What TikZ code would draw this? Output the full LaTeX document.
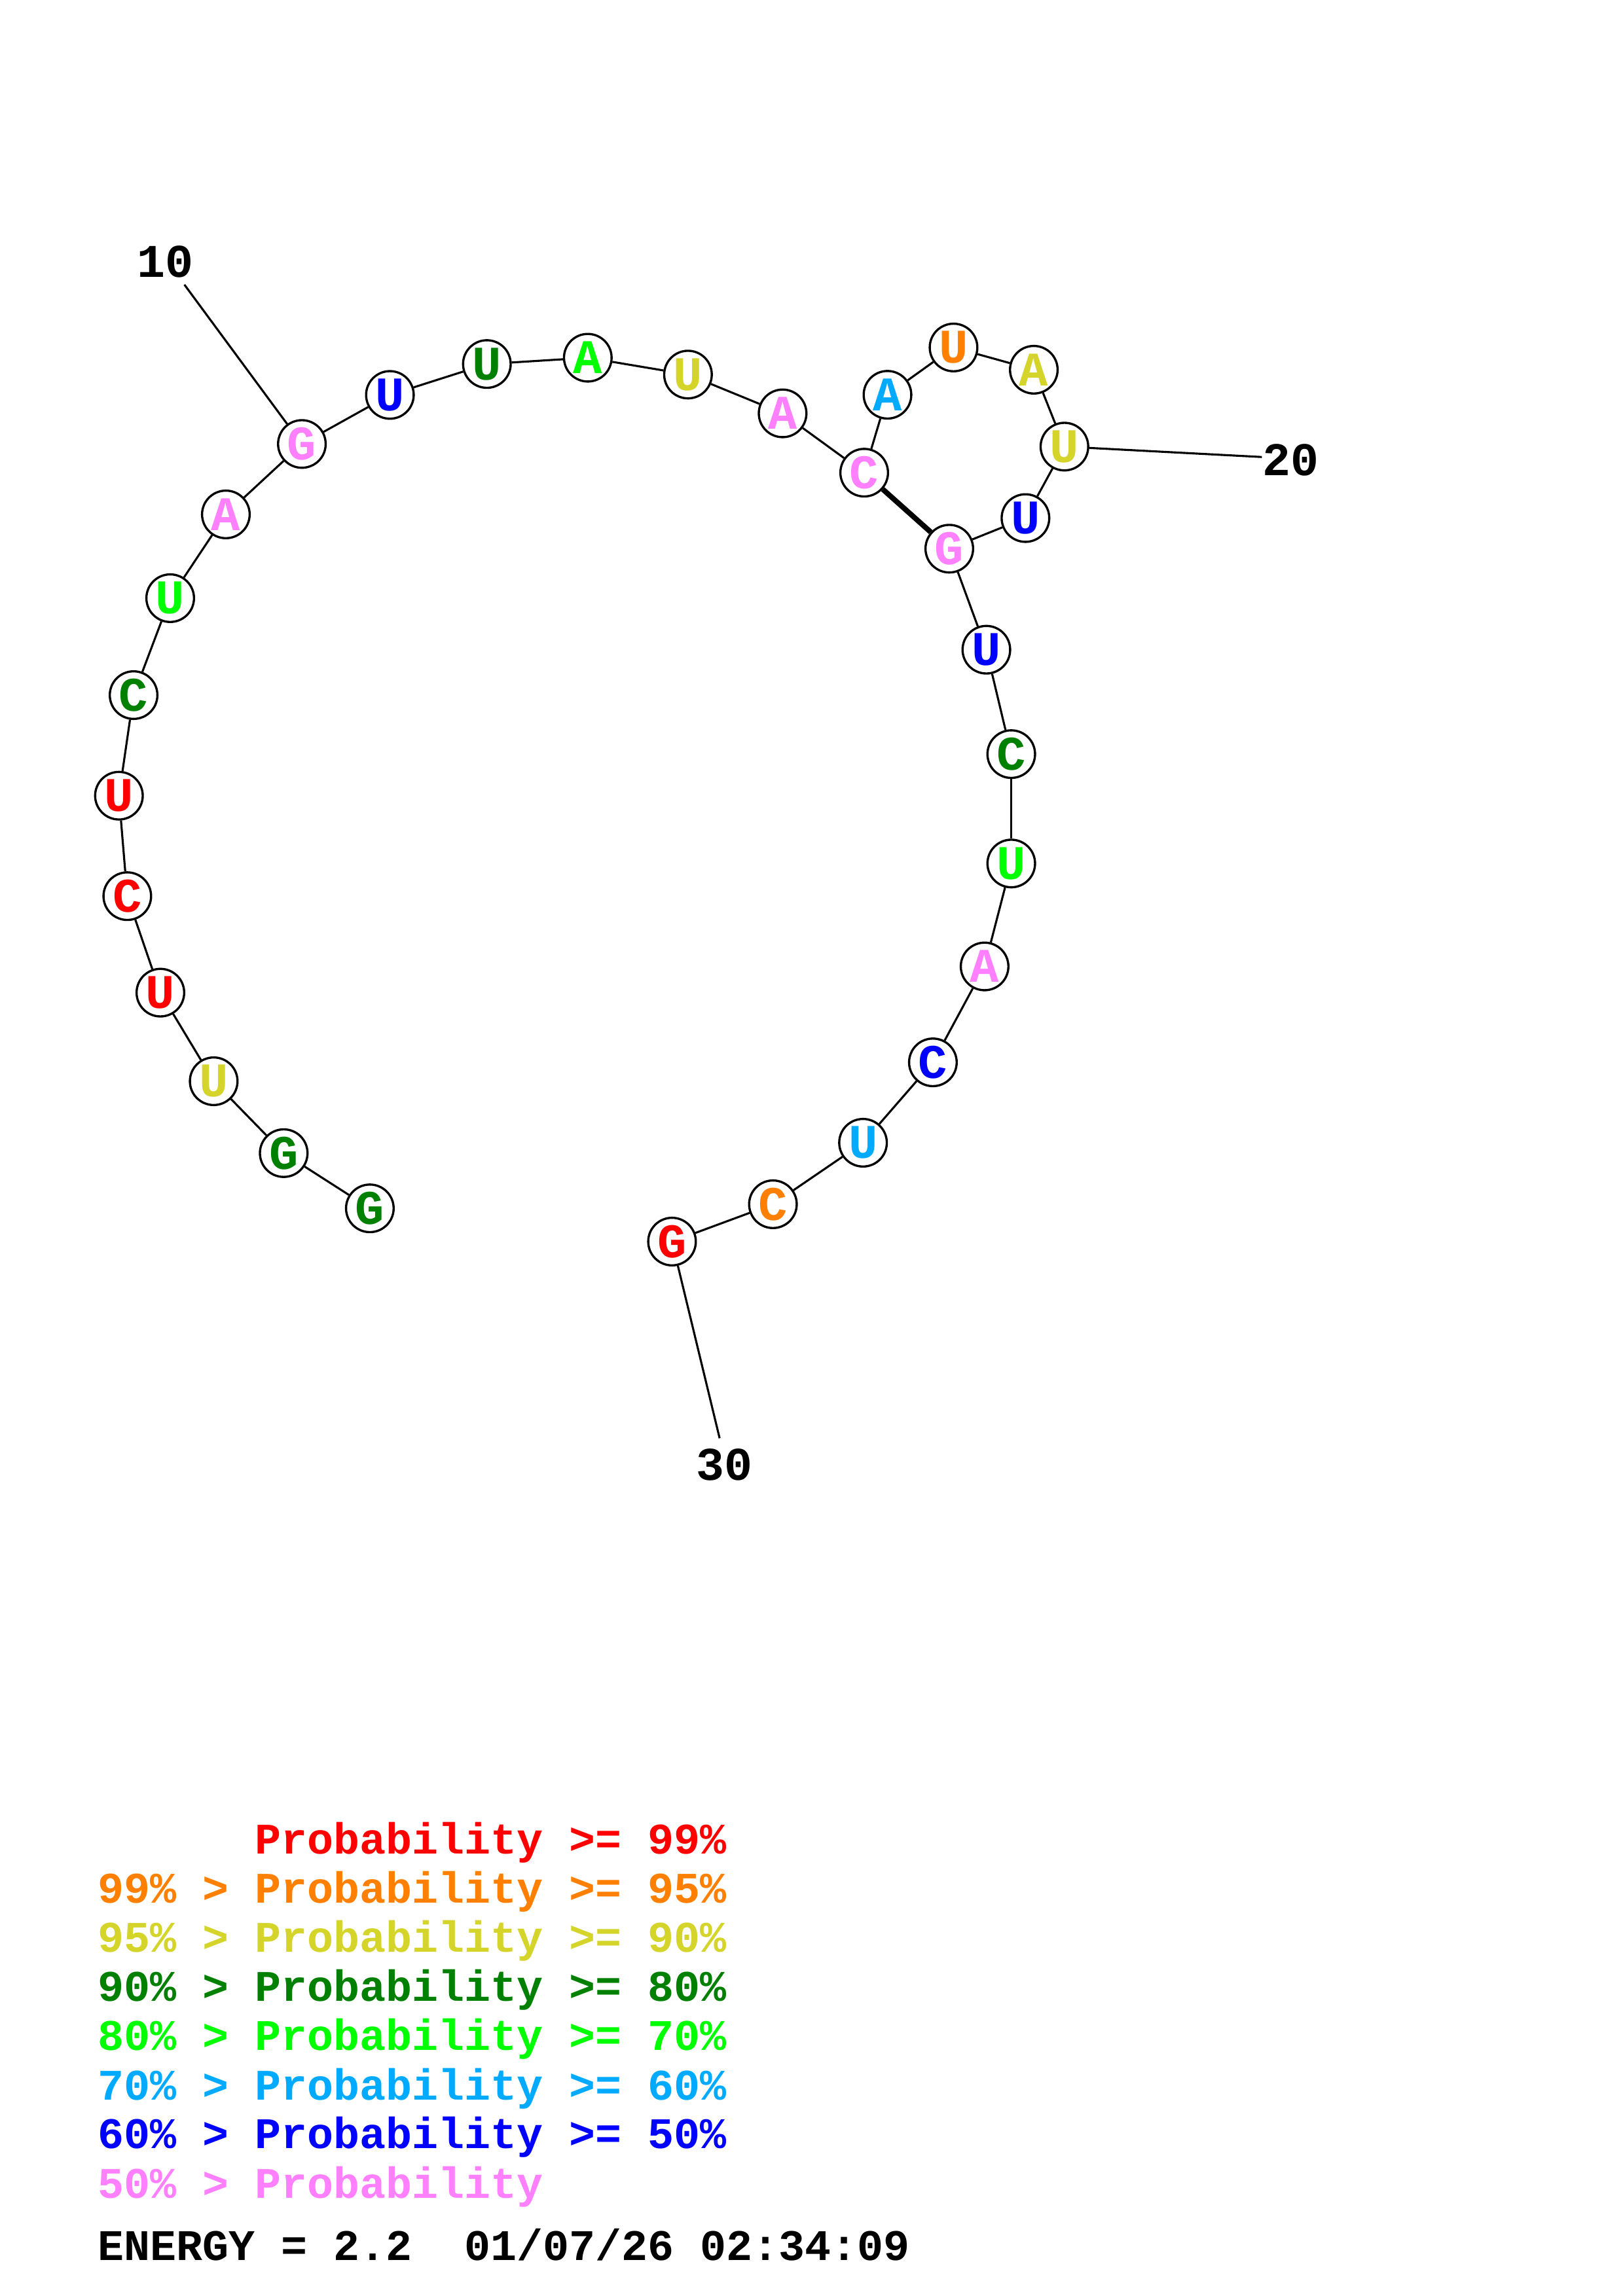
\documentclass[tikz,border=0pt]{standalone}
\usepackage{fontspec}
\newfontfamily\cour{Liberation Mono}
\definecolor{cred}{RGB}{255,0,0}
\definecolor{corange}{RGB}{255,128,0}
\definecolor{cyellow}{RGB}{212,212,42}
\definecolor{cdkgreen}{RGB}{0,128,0}
\definecolor{cgreen}{RGB}{0,255,0}
\definecolor{cltblue}{RGB}{0,170,255}
\definecolor{cblue}{RGB}{0,0,255}
\definecolor{cpink}{RGB}{255,128,255}
\tikzset{
  base/.style={circle,draw=black,fill=white,line width=1.5pt,minimum size=32.5pt,inner sep=0pt,
    font=\cour\bfseries\fontsize{33}{33}\selectfont},
  bond/.style={line width=1.4pt},
  pairbond/.style={line width=3.6pt},
  numlabel/.style={font=\cour\bfseries\fontsize{32}{32}\selectfont,inner sep=0pt},
  legend/.style={anchor=base west,inner sep=0pt,font=\cour\bfseries\fontsize{29.8}{29.8}\selectfont}
}
\begin{document}
\begin{tikzpicture}[x=1pt,y=-1pt]
\useasboundingbox[fill=white] (0,0) rectangle (1108,1568);
% bases
\node[base,text=cdkgreen] (n1) at (252.5,825.2) {G};
\node[base,text=cdkgreen] (n2) at (193.7,787.5) {G};
\node[base,text=cyellow] (n3) at (145.9,738.4) {U};
\node[base,text=cred] (n4) at (109.5,677.9) {U};
\node[base,text=cred] (n5) at (86.9,612.0) {C};
\node[base,text=cred] (n6) at (81.2,543.4) {U};
\node[base,text=cdkgreen] (n7) at (91.2,474.7) {C};
\node[base,text=cgreen] (n8) at (116.2,408.5) {U};
\node[base,text=cpink] (n9) at (154.2,351.3) {A};
\node[base,text=cpink] (n10) at (206.1,303.2) {G};
\node[base,text=cblue] (n11) at (266.2,269.7) {U};
\node[base,text=cdkgreen] (n12) at (332.4,248.6) {U};
\node[base,text=cgreen] (n13) at (401.3,244.3) {A};
\node[base,text=cyellow] (n14) at (469.7,255.8) {U};
\node[base,text=cpink] (n15) at (534.3,282.3) {A};
\node[base,text=cpink] (n16) at (590.0,322.8) {C};
\node[base,text=cltblue] (n17) at (605.9,269.6) {A};
\node[base,text=corange] (n18) at (651.0,237.3) {U};
\node[base,text=cyellow] (n19) at (705.8,252.5) {A};
\node[base,text=cyellow] (n20) at (726.7,305.0) {U};
\node[base,text=cblue] (n21) at (700.1,353.8) {U};
\node[base,text=cpink] (n22) at (648.1,374.7) {G};
\node[base,text=cblue] (n23) at (673.4,443.7) {U};
\node[base,text=cdkgreen] (n24) at (690.4,515.0) {C};
\node[base,text=cgreen] (n25) at (690.4,589.7) {U};
\node[base,text=cpink] (n26) at (672.2,660.0) {A};
\node[base,text=cblue] (n27) at (636.9,725.5) {C};
\node[base,text=cltblue] (n28) at (589.2,780.4) {U};
\node[base,text=corange] (n29) at (527.7,822.4) {C};
\node[base,text=cred] (n30) at (458.8,847.9) {G};
% backbone
\foreach \a/\b in {1/2,2/3,3/4,4/5,5/6,6/7,7/8,8/9,9/10,10/11,11/12,12/13,13/14,14/15,15/16,16/17,17/18,18/19,19/20,20/21,21/22,22/23,23/24,24/25,25/26,26/27,27/28,28/29,29/30}
  \draw[bond] (n\a) -- (n\b);
% base pair
\draw[pairbond] (n16) -- (n22);
% number labels
\coordinate (e10) at (125.9,194.4);
\coordinate (e20) at (861.5,312.1);
\coordinate (e30) at (491.3,982.2);
\draw[bond] (n10) -- (e10);
\draw[bond] (n20) -- (e20);
\draw[bond] (n30) -- (e30);
\node[numlabel] (t10) at (112.9,178.8) {10};
\node[numlabel] (t20) at (881.4,314.4) {20};
\node[numlabel] (t30) at (494.7,1000.1) {30};
% legend
\node[legend,text=cred] (g1) at (173.8,1266) {Probability >= 99\%};
\node[legend,text=corange] (g2) at (66.5,1299.6) {99\% > Probability >= 95\%};
\node[legend,text=cyellow] (g3) at (66.5,1333.1) {95\% > Probability >= 90\%};
\node[legend,text=cdkgreen] (g4) at (66.5,1366.7) {90\% > Probability >= 80\%};
\node[legend,text=cgreen] (g5) at (66.5,1400.3) {80\% > Probability >= 70\%};
\node[legend,text=cltblue] (g6) at (66.5,1433.9) {70\% > Probability >= 60\%};
\node[legend,text=cblue] (g7) at (66.5,1467.4) {60\% > Probability >= 50\%};
\node[legend,text=cpink] (g8) at (66.5,1501.0) {50\% > Probability};
\node[legend,text=black] (g9) at (66.5,1543.5) {ENERGY = 2.2\ \ 01/07/26 02:34:09};
\end{tikzpicture}
\end{document}
